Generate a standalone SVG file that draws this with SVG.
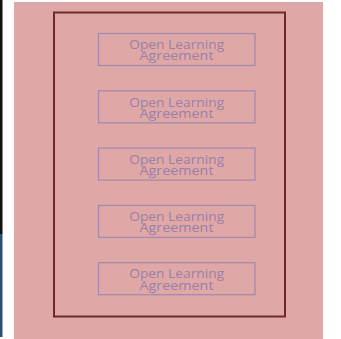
<svg xmlns="http://www.w3.org/2000/svg" width="341" height="339" viewBox="0 0 341 339">
<style>
.box{fill:none;stroke:#a48aae;stroke-width:1.3}
.lbl{font-family:"Open Sans","Noto Sans",sans-serif;font-size:12.5px;fill:#9a80a8;text-anchor:middle}
</style>
<rect x="0" y="0" width="341" height="339" fill="#ffffff"/>
<rect x="0" y="0" width="2.5" height="234" fill="#111111"/>
<rect x="0" y="234" width="2.5" height="103" fill="#2a4d7a"/>
<rect x="14" y="2" width="309" height="337" fill="#dfa8a7"/>
<rect id="container" x="54" y="12.5" width="231" height="304" fill="none" stroke="#6e2a2a" stroke-width="2"/>
<g id="connectors"></g>
<g id="node1"><rect class="box" x="98.5" y="33.5" width="156.5" height="32"/><text class="lbl" x="176.7" y="49.2" textLength="95" lengthAdjust="spacingAndGlyphs">Open Learning</text><text class="lbl" x="176.5" y="60.4" textLength="74" lengthAdjust="spacingAndGlyphs">Agreement</text></g>
<g id="node2"><rect class="box" x="98.5" y="90.8" width="156.5" height="32"/><text class="lbl" x="176.7" y="106.5" textLength="95" lengthAdjust="spacingAndGlyphs">Open Learning</text><text class="lbl" x="176.5" y="117.7" textLength="74" lengthAdjust="spacingAndGlyphs">Agreement</text></g>
<g id="node3"><rect class="box" x="98.5" y="148.1" width="156.5" height="32"/><text class="lbl" x="176.7" y="163.8" textLength="95" lengthAdjust="spacingAndGlyphs">Open Learning</text><text class="lbl" x="176.5" y="175" textLength="74" lengthAdjust="spacingAndGlyphs">Agreement</text></g>
<g id="node4"><rect class="box" x="98.5" y="205.4" width="156.5" height="32"/><text class="lbl" x="176.7" y="221.1" textLength="95" lengthAdjust="spacingAndGlyphs">Open Learning</text><text class="lbl" x="176.5" y="232.3" textLength="74" lengthAdjust="spacingAndGlyphs">Agreement</text></g>
<g id="node5"><rect class="box" x="98.5" y="262.7" width="156.5" height="32"/><text class="lbl" x="176.7" y="278.4" textLength="95" lengthAdjust="spacingAndGlyphs">Open Learning</text><text class="lbl" x="176.5" y="289.6" textLength="74" lengthAdjust="spacingAndGlyphs">Agreement</text></g>
</svg>
